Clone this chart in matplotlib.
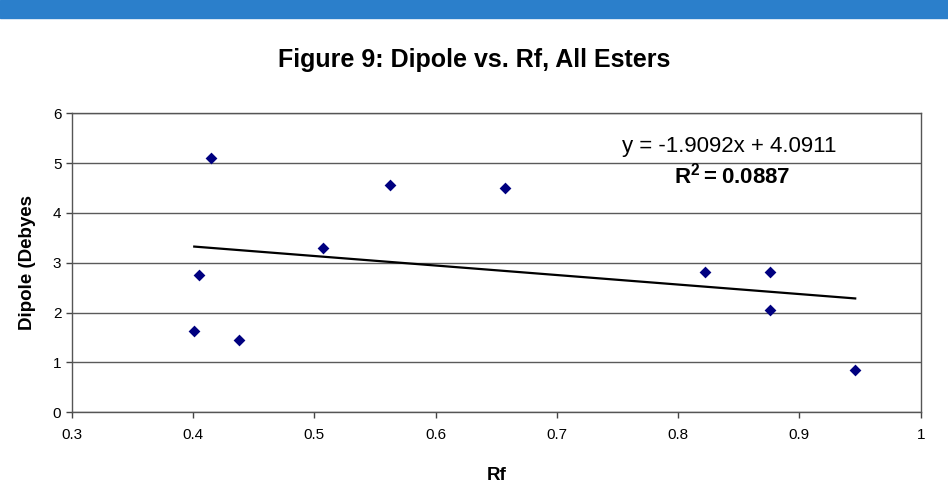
import matplotlib.pyplot as plt
from matplotlib.patches import Rectangle

plt.rcParams["font.family"] = ["Liberation Sans", "DejaVu Sans"]
plt.rcParams["mathtext.fontset"] = "custom"
plt.rcParams["mathtext.rm"] = "Liberation Sans"
plt.rcParams["mathtext.bf"] = "Liberation Sans:bold"

# Rf / dipole moment for each ester
rf = [0.401, 0.405, 0.415, 0.438, 0.507, 0.562, 0.657, 0.822, 0.876, 0.876, 0.946]
dipole = [1.63, 2.75, 5.10, 1.46, 3.30, 4.57, 4.50, 2.82, 2.82, 2.06, 0.85]

# linear trendline as printed on the chart
slope = -1.9092
intercept = 4.0911
r_squared = 0.0887

x_ticks = [0.3, 0.4, 0.5, 0.6, 0.7, 0.8, 0.9, 1.0]
x_tick_labels = ["0.3", "0.4", "0.5", "0.6", "0.7", "0.8", "0.9", "1"]
y_ticks = [0, 1, 2, 3, 4, 5, 6]

W, H = 948, 496
fig = plt.figure(figsize=(W / 100, H / 100), dpi=100)

# blue banner along the top edge
fig.patches.append(
    Rectangle((0, 1 - 18 / H), 1, 18 / H, transform=fig.transFigure,
              color="#2b7fcb", zorder=0)
)

ax = fig.add_axes([0.0757, 0.1687, 0.8955, 0.6029])
ax.set_xlim(0.3, 1.0)
ax.set_ylim(0, 6)

ax.grid(axis="y", color="#5a5a5a", linewidth=1.0)
ax.set_axisbelow(True)

ax.scatter(rf, dipole, marker="D", s=36, color="#000080", zorder=3, linewidths=0)

x_fit = [min(rf), max(rf)]
y_fit = [slope * x + intercept for x in x_fit]
ax.plot(x_fit, y_fit, color="black", linewidth=1.6, zorder=2)

ax.set_xticks(x_ticks)
ax.set_xticklabels(x_tick_labels)
ax.set_yticks(y_ticks)
ax.tick_params(axis="both", labelsize=11, length=4, color="#444444", width=1)
ax.tick_params(axis="x", pad=7)

for spine in ax.spines.values():
    spine.set_color("#555555")
    spine.set_linewidth(1.0)

fig.text(497 / W, 1 - 475 / H, "Rf", ha="center", va="center",
         fontsize=13.5, fontweight="bold")
fig.text(28 / W, 1 - 263 / H, "Dipole (Debyes", ha="center", va="center",
         rotation=90, fontsize=13.5, fontweight="bold")

fig.text(0.5, 1 - 60 / H, "Figure 9: Dipole vs. Rf, All Esters",
         ha="center", va="center", fontsize=18, fontweight="bold")

fig.text(729 / W, 1 - 146 / H, f"y = {slope}x + {intercept}",
         ha="center", va="center", fontsize=16)
fig.text(732 / W, 1 - 176 / H, f"$\\mathbf{{R^2 = {r_squared}}}$",
         ha="center", va="center", fontsize=16)

fig.savefig("out.png", dpi=100)
